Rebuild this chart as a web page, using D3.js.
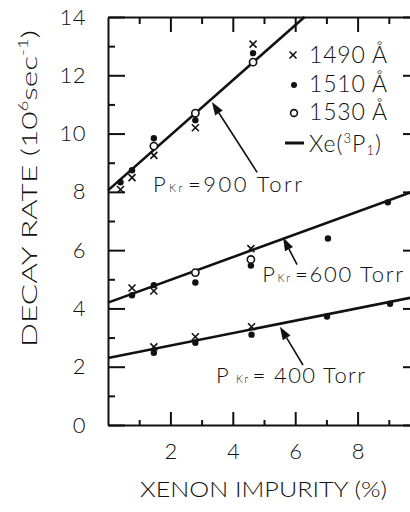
<!DOCTYPE html>
<html><head><meta charset="utf-8">
<script src="https://cdn.jsdelivr.net/npm/d3@7"></script>
<style>
html,body{margin:0;padding:0;background:#fff;}
svg{display:block;}
text{font-family:"Lato","Noto Sans",sans-serif;font-weight:300;fill:#111;}
</style></head>
<body><svg id="c" width="410" height="512"></svg>
<script>
// ---- data ----
const xMajorTicks = [2, 4, 6, 8];
const xMinorTicks = [1, 3, 5, 7, 9];
const yMajorTicks = [0, 2, 4, 6, 8, 10, 12, 14];
const yMinorTicks = [1, 3, 5, 7, 9, 11, 13];

// P_Kr = 900 Torr
const x1490_900 = [0.4, 0.77, 1.47, 2.8, 4.65];
const y1490_900 = [8.08, 8.49, 9.25, 10.2, 13.07];
const x1510_900 = [0.4, 0.77, 1.47, 2.8, 4.65];
const y1510_900 = [8.33, 8.74, 9.84, 10.46, 12.76];
const x1530_900 = [1.47, 2.8, 4.65];
const y1530_900 = [9.57, 10.7, 12.45];
// P_Kr = 600 Torr
const x1490_600 = [0.77, 1.47, 4.58];
const y1490_600 = [4.7, 4.6, 6.05];
const x1510_600 = [0.77, 1.47, 2.8, 4.58, 7.05, 8.97];
const y1510_600 = [4.45, 4.8, 4.89, 5.47, 6.4, 7.64];
const x1530_600 = [2.8, 4.58];
const y1530_600 = [5.23, 5.68];
// P_Kr = 400 Torr
const x1490_400 = [1.47, 2.8, 4.6];
const y1490_400 = [2.68, 3.03, 3.37];
const x1510_400 = [1.47, 2.8, 4.6, 7.02, 9.04];
const y1510_400 = [2.48, 2.82, 3.1, 3.72, 4.16];

// Xe(3P1) lines (endpoints)
const lineX900 = [0, 6.3],  lineY900 = [8.05, 14.0];
const lineX600 = [0, 10],   lineY600 = [4.2, 8.1];
const lineX400 = [0, 10],   lineY400 = [2.3, 4.43];

// annotations: label position, arrow tail, arrow tip (data coords)
const annoLabels = ["=900 Torr", "=600 Torr", "= 400 Torr"];
const annoTextX = [1.44, 4.94, 3.46], annoTextY = [7.98, 4.92, 1.44];
const annoTailX = [4.78, 6.06, 6.25], annoTailY = [8.67, 5.5, 2.06];
const annoTipX  = [3.33, 5.61, 5.51], annoTipY  = [11.08, 6.43, 3.37];
const annoWidth = [149, 141, 149];

const legendLabels = ["1490 Å", "1510 Å", "1530 Å"];

// ---- drawing ----
const svg = d3.select("#c");
const x = d3.scaleLinear().domain([0, 10]).range([108, 420]);
const y = d3.scaleLinear().domain([0, 14]).range([425, 17]);
const ink = "#111";

function styleAxis(g){ g.selectAll("path,line").attr("stroke", ink).attr("stroke-width", 2); }

// left
svg.append("g").attr("transform", `translate(${x(0)},0)`)
  .call(d3.axisLeft(y).tickValues(yMajorTicks).tickSizeInner(-17).tickSizeOuter(0).tickPadding(22).tickFormat(d3.format("d")))
  .call(styleAxis)
  .call(g => g.selectAll("text").attr("font-size", 22).attr("font-family", "Lato, sans-serif").attr("fill", ink).attr("letter-spacing", 0.5));
svg.append("g").attr("transform", `translate(${x(0)},0)`)
  .call(d3.axisLeft(y).tickValues(yMinorTicks).tickSizeInner(-7).tickSizeOuter(0).tickFormat(""))
  .call(styleAxis).call(g => g.select(".domain").remove());
// right (off canvas edge)
svg.append("g").attr("transform", `translate(${x(10)},0)`)
  .call(d3.axisRight(y).tickValues(yMajorTicks).tickSizeInner(-17).tickSizeOuter(0).tickFormat(""))
  .call(styleAxis);
// bottom
svg.append("g").attr("transform", `translate(0,${y(0)})`)
  .call(d3.axisBottom(x).tickValues(xMajorTicks).tickSizeInner(-13).tickSizeOuter(0).tickPadding(18).tickFormat(d3.format("d")))
  .call(styleAxis)
  .call(g => g.selectAll("text").attr("font-size", 22).attr("font-family", "Lato, sans-serif").attr("fill", ink));
svg.append("g").attr("transform", `translate(0,${y(0)})`)
  .call(d3.axisBottom(x).tickValues(xMinorTicks).tickSizeInner(-5).tickSizeOuter(0).tickFormat(""))
  .call(styleAxis).call(g => g.select(".domain").remove());
// top
svg.append("g").attr("transform", `translate(0,${y(14)})`)
  .call(d3.axisTop(x).tickValues(xMajorTicks).tickSizeInner(-15).tickSizeOuter(0).tickFormat(""))
  .call(styleAxis);
svg.append("g").attr("transform", `translate(0,${y(14)})`)
  .call(d3.axisTop(x).tickValues(xMinorTicks).tickSizeInner(-7).tickSizeOuter(0).tickFormat(""))
  .call(styleAxis).call(g => g.select(".domain").remove());

// fit lines
const line = d3.line().x(d => x(d[0])).y(d => y(d[1]));
[[lineX900, lineY900], [lineX600, lineY600], [lineX400, lineY400]].forEach(([lx, ly]) => {
  svg.append("path").datum(d3.zip(lx, ly)).attr("d", line)
    .attr("fill", "none").attr("stroke", ink).attr("stroke-width", 2.6);
});

// markers
function crosses(xs, ys){
  const g = svg.append("g");
  d3.zip(xs, ys).forEach(([a, b]) => {
    const cx = x(a), cy = y(b), s = 3.5;
    g.append("path").attr("d", `M${cx-s},${cy-s}L${cx+s},${cy+s}M${cx+s},${cy-s}L${cx-s},${cy+s}`)
      .attr("stroke", ink).attr("stroke-width", 1.6).attr("fill", "none");
  });
}
function dots(xs, ys){
  svg.append("g").selectAll("circle").data(d3.zip(xs, ys)).join("circle")
    .attr("cx", d => x(d[0])).attr("cy", d => y(d[1])).attr("r", 3.2).attr("fill", ink);
}
function rings(xs, ys){
  svg.append("g").selectAll("circle").data(d3.zip(xs, ys)).join("circle")
    .attr("cx", d => x(d[0])).attr("cy", d => y(d[1])).attr("r", 3.6)
    .attr("fill", "#fff").attr("stroke", ink).attr("stroke-width", 1.6);
}
crosses(x1490_900, y1490_900); dots(x1510_900, y1510_900); rings(x1530_900, y1530_900);
crosses(x1490_600, y1490_600); dots(x1510_600, y1510_600); rings(x1530_600, y1530_600);
crosses(x1490_400, y1490_400); dots(x1510_400, y1510_400);

// annotations
annoLabels.forEach((lab, i) => {
  const t = svg.append("text").attr("x", x(annoTextX[i])).attr("y", y(annoTextY[i])).attr("font-size", 22)
    .attr("textLength", annoWidth[i]).attr("lengthAdjust", "spacing");
  t.append("tspan").text("P");
  t.append("tspan").attr("font-size", 11).attr("dx", i === 2 ? 6 : 1).text("Kr");
  t.append("tspan").attr("dx", 3).text(lab);
  const x0 = x(annoTailX[i]), y0 = y(annoTailY[i]), x1 = x(annoTipX[i]), y1 = y(annoTipY[i]);
  const ang = Math.atan2(y1 - y0, x1 - x0), L = 13, W = 4.5;
  const bx = x1 - L * Math.cos(ang), by = y1 - L * Math.sin(ang);
  svg.append("line").attr("x1", x0).attr("y1", y0).attr("x2", bx).attr("y2", by)
    .attr("stroke", ink).attr("stroke-width", 1.6);
  const px = -Math.sin(ang) * W, py = Math.cos(ang) * W;
  svg.append("path").attr("d", `M${x1},${y1}L${bx+px},${by+py}L${bx-px},${by-py}Z`).attr("fill", ink);
});

// legend
const legRowY = [63, 92, 120, 152];
const lg = svg.append("g");
{
  const cx = 293, cy = legRowY[0] - 8, s = 3.5;
  lg.append("path").attr("d", `M${cx-s},${cy-s}L${cx+s},${cy+s}M${cx+s},${cy-s}L${cx-s},${cy+s}`)
    .attr("stroke", ink).attr("stroke-width", 1.6);
  lg.append("circle").attr("cx", 294).attr("cy", legRowY[1] - 7).attr("r", 3).attr("fill", ink);
  lg.append("circle").attr("cx", 294).attr("cy", legRowY[2] - 7).attr("r", 3.4).attr("fill", "#fff")
    .attr("stroke", ink).attr("stroke-width", 1.6);
  lg.append("line").attr("x1", 285).attr("x2", 304).attr("y1", legRowY[3] - 9).attr("y2", legRowY[3] - 9)
    .attr("stroke", ink).attr("stroke-width", 3);
}
legendLabels.forEach((lab, i) => {
  lg.append("text").attr("x", 309).attr("y", legRowY[i]).attr("font-size", 23)
    .attr("textLength", 78).attr("lengthAdjust", "spacing").text(lab);
});
{
  const t = lg.append("text").attr("x", 309).attr("y", legRowY[3]).attr("font-size", 23)
    .attr("textLength", 72).attr("lengthAdjust", "spacing");
  t.append("tspan").text("Xe(");
  t.append("tspan").attr("font-size", 13).attr("dy", -9).text("3");
  t.append("tspan").attr("dy", 9).text("P");
  t.append("tspan").attr("font-size", 13).attr("dy", 3).text("1");
  t.append("tspan").attr("dy", -3).text(")");
}

// axis titles
svg.append("text").attr("x", 140).attr("y", 497).attr("font-size", 21)
  .attr("textLength", 247).attr("lengthAdjust", "spacingAndGlyphs").text("XENON IMPURITY (%)");
{
  const t = svg.append("text").attr("transform", "translate(37,347) rotate(-90)").attr("font-size", 22)
    .attr("textLength", 317).attr("lengthAdjust", "spacingAndGlyphs");
  t.append("tspan").text("DECAY RATE (10");
  t.append("tspan").attr("font-size", 13).attr("dy", -9).text("6");
  t.append("tspan").attr("dy", 9).text("sec");
  t.append("tspan").attr("font-size", 13).attr("dy", -9).text("-1");
  t.append("tspan").attr("dy", 9).text(")");
}
</script></body></html>
